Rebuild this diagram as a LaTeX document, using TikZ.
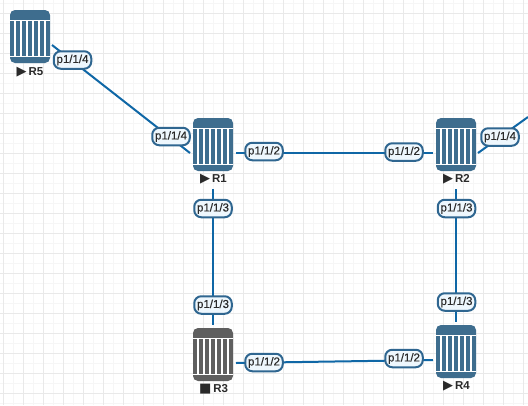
\documentclass[tikz,border=0pt]{standalone}
\usepackage{fontspec}
\setmainfont{Liberation Sans}
\newfontfamily\symbfont{DejaVu Sans}
\newfontfamily\pillfont[FakeBold=0.3]{Liberation Sans}
\usepackage{xcolor}
\definecolor{routerblue}{HTML}{3E6D8E}
\definecolor{routergray}{HTML}{5F5F5F}
\definecolor{linkblue}{HTML}{0F67A6}
\definecolor{pillfill}{HTML}{EEF7FD}
\definecolor{pillline}{HTML}{2F6690}
\definecolor{gridminor}{HTML}{F6F6F6}
\definecolor{gridmajor}{HTML}{E9E9E9}
\definecolor{textdark}{HTML}{2A2A2A}
\tikzset{
  router/.style={minimum width=40pt, minimum height=53pt, inner sep=0pt, rounded corners=5pt, fill=#1,
    path picture={
      \coordinate (tl) at (path picture bounding box.north west);
      \draw[white, line width=1.2pt] ([yshift=-10.8pt]tl) -- ++(40pt,0);
      \draw[white, line width=1.2pt] ([yshift=-46.2pt]tl) -- ++(40pt,0);
      \foreach \i in {5,11,17,23,29,35}
        \draw[white, line width=1.2pt] ([xshift=\i pt,yshift=-10.8pt]tl) -- ++(0,-35.4pt);
    }},
  pill/.style={draw=pillline, fill=pillfill, line width=2pt, rounded corners=7pt, inner sep=0pt,
    minimum width=37.5pt, minimum height=17.5pt, text=textdark, font=\pillfont\fontsize{11.5}{11.5}\selectfont},
  tag/.style={inner sep=0pt, text=textdark, font=\fontsize{11.5}{11.5}\selectfont\bfseries},
  link/.style={draw=linkblue, line width=2pt}
}
\newcommand{\runmark}{{\symbfont\mdseries\fontsize{13}{13}\selectfont ▶}\,}
\newcommand{\stopmark}{{\symbfont\mdseries\fontsize{13}{13}\selectfont ■}\,}
\begin{document}
\begin{tikzpicture}[x=1pt, y=-1pt]
  \useasboundingbox (0,0) rectangle (528,405);
  \fill[white] (0,0) rectangle (528,405);

  % Grid
  \foreach \x in {13,33,...,533} \draw[gridminor, line width=1pt] (\x,0) -- (\x,405);
  \foreach \y in {3,23,...,403} \draw[gridminor, line width=1pt] (0,\y) -- (528,\y);
  \foreach \x in {3,23,...,523} \draw[gridmajor, line width=1pt] (\x,0) -- (\x,405);
  \foreach \y in {13,33,...,393} \draw[gridmajor, line width=1pt] (0,\y) -- (528,\y);

  % Routers
  \node[router=routerblue] (R5) at (30,36.5) {};
  \node[router=routerblue] (R1) at (213,144.5) {};
  \node[router=routerblue] (R2) at (456,144.5) {};
  \node[router=routergray] (R3) at (213,354.5) {};
  \node[router=routerblue] (R4) at (456,351.5) {};

  % Router names
  \node[tag] (R5tag) at (30,72) {\runmark R5};
  \node[tag] (R1tag) at (213.5,179) {\runmark R1};
  \node[tag] (R2tag) at (456.5,179) {\runmark R2};
  \node[tag] (R3tag) at (213.5,389) {\stopmark R3};
  \node[tag] (R4tag) at (456.5,386) {\runmark R4};

  % Link ends
  \coordinate (R5se) at (52,45);
  \coordinate (R1nw) at (190,153);
  \coordinate (R1e) at (236,153);
  \coordinate (R2w) at (433,153);
  \coordinate (R1s) at (213,189);
  \coordinate (R3n) at (213,325);
  \coordinate (R2s) at (456,189);
  \coordinate (R4n) at (456,322);
  \coordinate (R3e) at (236,363);
  \coordinate (R4w) at (433,360);
  \coordinate (R2e) at (478,153);
  \coordinate (out) at (528,117);

  % Links
  \draw[link] (R5se) -- (R1nw);
  \draw[link] (R1e) -- (R2w);
  \draw[link] (R1s) -- (R3n);
  \draw[link] (R2s) -- (R4n);
  \draw[link] (R3e) -- (R4w);
  \draw[link] (R2e) -- (out);

  % Port labels
  \node[pill] (R5p4) at (72.5,60) {p1/1/4};
  \node[pill] (R1p4) at (171,136.5) {p1/1/4};
  \node[pill] (R1p2) at (264,151.5) {p1/1/2};
  \node[pill] (R1p3) at (213,208.5) {p1/1/3};
  \node[pill] (R2p2) at (404,152) {p1/1/2};
  \node[pill] (R2p4) at (500,137) {p1/1/4};
  \node[pill] (R2p3) at (456.5,208.5) {p1/1/3};
  \node[pill] (R3p3) at (213,305) {p1/1/3};
  \node[pill] (R3p2) at (264,362.5) {p1/1/2};
  \node[pill] (R4p3) at (456.5,302) {p1/1/3};
  \node[pill] (R4p2) at (404,358.5) {p1/1/2};
\end{tikzpicture}
\end{document}
